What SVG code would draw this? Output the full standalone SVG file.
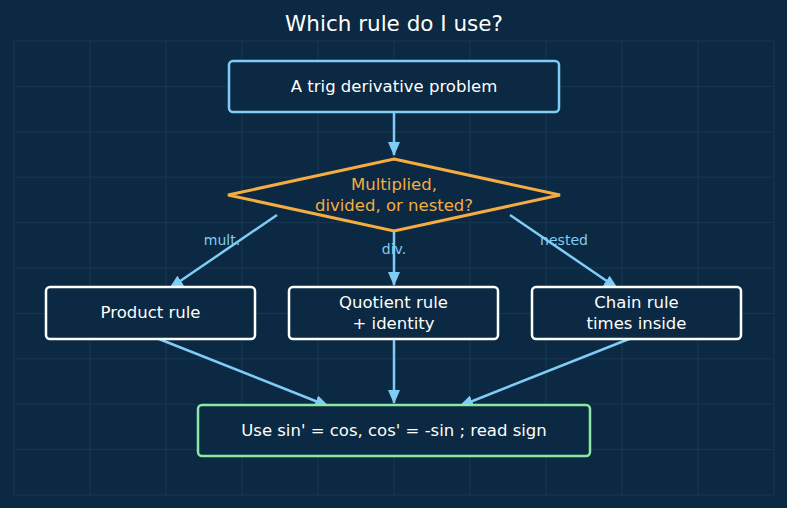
<svg xmlns="http://www.w3.org/2000/svg" width="787" height="508" viewBox="0 0 787 508">
<defs>
<style>
text{font-family:"DejaVu Sans","Noto Sans",sans-serif;text-anchor:middle;dominant-baseline:central}
.grid line{stroke:#183851;stroke-width:1}
.box{fill:#0b2942;stroke:#ffffff;stroke-width:2.5}
.t{fill:#ffffff;font-size:16.5px}
.edge{stroke:#7fcdf5;stroke-width:2.5;fill:none;marker-end:url(#ah)}
.lbl{fill:#7fcdf5;font-size:14px}
</style>
<marker id="ah" viewBox="0 0 14 12" refX="13" refY="6" markerWidth="14" markerHeight="12" markerUnits="userSpaceOnUse" orient="auto">
<path d="M0,0 L14,6 L0,12 z" fill="#7fcdf5"/>
</marker>
</defs>
<rect width="787" height="508" fill="#0b2942"/>
<g class="grid">
<line x1="14" y1="41" x2="14" y2="495"/><line x1="90" y1="41" x2="90" y2="495"/><line x1="166" y1="41" x2="166" y2="495"/><line x1="242" y1="41" x2="242" y2="495"/><line x1="318" y1="41" x2="318" y2="495"/><line x1="394" y1="41" x2="394" y2="495"/><line x1="470" y1="41" x2="470" y2="495"/><line x1="546" y1="41" x2="546" y2="495"/><line x1="622" y1="41" x2="622" y2="495"/><line x1="698" y1="41" x2="698" y2="495"/><line x1="774" y1="41" x2="774" y2="495"/>
<line x1="14" y1="41" x2="774" y2="41"/><line x1="14" y1="86.4" x2="774" y2="86.4"/><line x1="14" y1="131.8" x2="774" y2="131.8"/><line x1="14" y1="177.2" x2="774" y2="177.2"/><line x1="14" y1="222.6" x2="774" y2="222.6"/><line x1="14" y1="268" x2="774" y2="268"/><line x1="14" y1="313.4" x2="774" y2="313.4"/><line x1="14" y1="358.8" x2="774" y2="358.8"/><line x1="14" y1="404.2" x2="774" y2="404.2"/><line x1="14" y1="449.6" x2="774" y2="449.6"/><line x1="14" y1="495" x2="774" y2="495"/>
</g>
<text x="394" y="23" fill="#ffffff" font-size="21.5">Which rule do I use?</text>
<g id="connectors">
<line class="edge" x1="394" y1="112" x2="394" y2="155"/>
<line class="edge" x1="277" y1="215" x2="170" y2="288"/>
<line class="edge" x1="394" y1="231" x2="394" y2="285"/>
<line class="edge" x1="510" y1="215" x2="617" y2="288"/>
<line class="edge" x1="154" y1="337" x2="328" y2="406"/>
<line class="edge" x1="394" y1="339" x2="394" y2="403"/>
<line class="edge" x1="634" y1="337" x2="460" y2="406"/>
<text class="lbl" x="222" y="240">mult.</text>
<text class="lbl" x="394" y="249">div.</text>
<text class="lbl" x="564" y="240">nested</text>
</g>
<g id="start">
<rect class="box" x="229" y="61" width="330" height="51" rx="4" style="stroke:#7fcdf5"/>
<text class="t" x="394" y="86.5">A trig derivative problem</text>
</g>
<g id="decision">
<polygon points="394,159 560,195 394,231 228,195" fill="#0b2942" stroke="#f5ad42" stroke-width="3"/>
<text x="394" y="184" fill="#f5ad42" font-size="16.5">Multiplied,</text>
<text x="394" y="205" fill="#f5ad42" font-size="16.5">divided, or nested?</text>
</g>
<g id="product">
<rect class="box" x="46" y="287" width="209" height="52" rx="4"/>
<text class="t" x="150.5" y="312.5">Product rule</text>
</g>
<g id="quotient">
<rect class="box" x="289" y="287" width="209" height="52" rx="4"/>
<text class="t" x="393.5" y="302">Quotient rule</text>
<text class="t" x="393.5" y="323">+ identity</text>
</g>
<g id="chain">
<rect class="box" x="532" y="287" width="209" height="52" rx="4"/>
<text class="t" x="636.5" y="302">Chain rule</text>
<text class="t" x="636.5" y="323">times inside</text>
</g>
<g id="result">
<rect class="box" x="198" y="405" width="392" height="51" rx="4" style="stroke:#8de8a4"/>
<text class="t" x="394" y="430.5">Use sin' = cos, cos' = -sin ; read sign</text>
</g>
</svg>
